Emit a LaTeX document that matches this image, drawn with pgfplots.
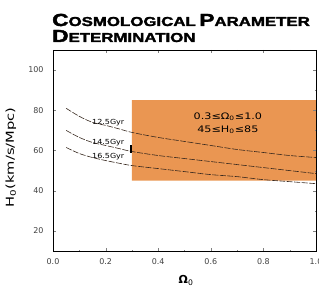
\documentclass[border=0pt]{standalone}
\usepackage{fontspec}
\setmainfont{DejaVu Sans}
\newfontfamily\titlefont{Liberation Sans}[BoldFeatures={FakeBold=2}]
\usepackage{graphicx}
\usepackage{pgfplots}
\pgfplotsset{compat=1.18}
\definecolor{boxorange}{RGB}{234,150,82}
\definecolor{curvec}{RGB}{55,40,30}
\newcommand{\fsc}[2]{{\fontsize{17.5}{18}\selectfont #1}{\fontsize{13}{14}\selectfont #2}}
\begin{document}
\begin{tikzpicture}
\path[use as bounding box] (-53bp,-39bp) rectangle (266bp,251bp);
\begin{axis}[
  at={(0,0)}, anchor=south west, scale only axis,
  width=263bp, height=201bp,
  xmin=0, xmax=1, ymin=10, ymax=110,
  xtick={0,0.2,0.4,0.6,0.8,1.0}, ytick={20,40,60,80,100},
  minor x tick num=1, minor y tick num=1,
  xticklabel style={/pgf/number format/fixed, /pgf/number format/fixed zerofill, /pgf/number format/precision=1, yshift=-4pt},
  yticklabel style={xshift=-6pt},
  /pgf/number format/assume math mode=true,
  tick label style={font=\fontsize{8}{9}\selectfont, text=black!75},
  tick align=inside,
  major tick length=3pt, minor tick length=1.5pt,
  axis line style={black, line width=0.8pt},
  axis on top,
  xlabel={\textbf{Ω}\textsubscript{0}},
  xlabel style={at={(axis description cs:0.506,-0.164)}, anchor=base, font=\fontsize{11}{12}\selectfont},
  ylabel={\scalebox{1.34}[1]{H\textsubscript{0}(km/s/Mpc)}},
  ylabel style={at={(axis description cs:-0.16,0.465)}, anchor=center, font=\fontsize{11}{12}\selectfont},
]
\addplot[fill=boxorange, draw=none] coordinates {(0.3,45) (1,45) (1,85) (0.3,85) (0.3,45)};
\addplot[curvec, line width=0.6pt, dash pattern=on 6pt off 1.5pt, smooth] coordinates {
 (0.05,81) (0.1,77) (0.15,74) (0.2,72.5) (0.25,70.8) (0.3,69) (0.4,66.5) (0.5,64.5) (0.6,62.5) (0.7,60.5) (0.8,59) (0.9,57.5) (1.0,56.5)};
\addplot[curvec, line width=0.6pt, dash pattern=on 6pt off 1.5pt, smooth] coordinates {
 (0.05,70) (0.1,66.5) (0.15,64) (0.2,62.5) (0.25,61) (0.3,59.5) (0.4,57.5) (0.5,56) (0.6,54.5) (0.7,53) (0.8,51.5) (0.9,50) (1.0,48.5)};
\addplot[curvec, line width=0.6pt, dash pattern=on 6pt off 1.5pt, smooth] coordinates {
 (0.05,61.5) (0.1,58.5) (0.15,56.5) (0.2,55) (0.25,53.7) (0.3,52.5) (0.4,51) (0.5,49.5) (0.6,48) (0.7,47) (0.8,45.5) (0.9,44.5) (1.0,43.5)};
\addplot[black, line width=2.5pt] coordinates {(0.297,59) (0.297,62.5)};
\node[anchor=south, inner sep=0.5pt, font=\fontsize{7}{8}\selectfont] at (axis cs:0.21,72.0) {\scalebox{1.15}[1]{12.5Gyr}};
\node[anchor=south, inner sep=0.5pt, font=\fontsize{7}{8}\selectfont] at (axis cs:0.21,62.0) {\scalebox{1.15}[1]{14.5Gyr}};
\node[anchor=south, inner sep=0.5pt, font=\fontsize{7}{8}\selectfont] at (axis cs:0.21,54.8) {\scalebox{1.15}[1]{16.5Gyr}};
\node[align=center, font=\fontsize{9}{13}\selectfont] at (axis cs:0.665,73.5) {\scalebox{1.25}[1]{0.3≤Ω\textsubscript{0}≤1.0}\\\scalebox{1.25}[1]{45≤H\textsubscript{0}≤85}};
\end{axis}
\node[anchor=base west, inner sep=0] at (-1bp,225bp) {\titlefont\bfseries\scalebox{1.3}[1]{\fsc{C}{OSMOLOGICAL} \fsc{P}{ARAMETER}}};
\node[anchor=base west, inner sep=0] at (-1bp,209bp) {\titlefont\bfseries\scalebox{1.3}[1]{\fsc{D}{ETERMINATION}}};
\end{tikzpicture}
\end{document}
